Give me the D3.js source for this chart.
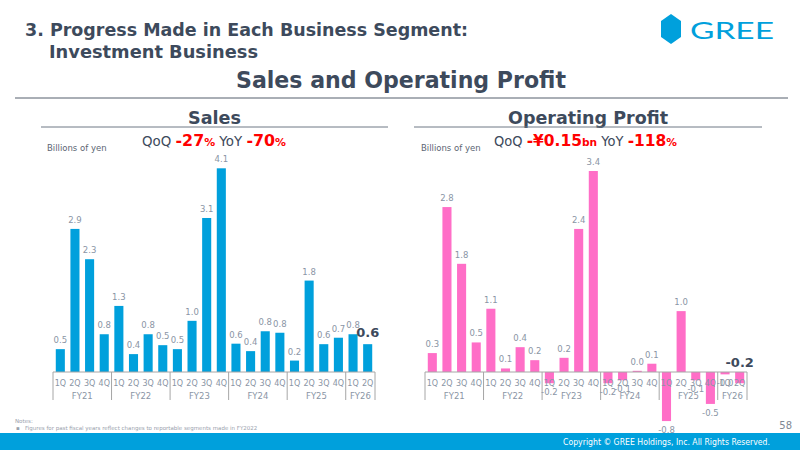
<!DOCTYPE html>
<html>
<head>
<meta charset="utf-8">
<script src="https://cdn.jsdelivr.net/npm/d3@7"></script>
<style>
body { margin: 0; background: #fff; }
svg { display: block; }
</style>
</head>
<body>
<div id="chart"></div>
<script>
// data
var fiscalYears = ["FY21", "FY22", "FY23", "FY24", "FY25", "FY26"];
var quarterNames = ["1Q", "2Q", "3Q", "4Q"];
var quartersPerYear = [4, 4, 4, 4, 4, 2];

var salesValues = [0.46, 2.88, 2.27, 0.76, 1.33, 0.36, 0.76, 0.54, 0.46, 1.03, 3.10, 4.10,
                   0.57, 0.42, 0.82, 0.79, 0.23, 1.84, 0.56, 0.69, 0.76, 0.56];
var profitValues = [0.32, 2.79, 1.83, 0.50, 1.07, 0.06, 0.42, 0.20, -0.19, 0.24, 2.42, 3.40,
                    -0.19, -0.14, 0.02, 0.14, -0.83, 1.03, -0.14, -0.54, -0.04, -0.19];

var salesQoQ = "-27", salesYoY = "-70";
var profitQoQ = "-¥0.15", profitYoY = "-118";

var categories = [];
fiscalYears.forEach(function (fy, i) {
    for (var q = 0; q < quartersPerYear[i]; q++) categories.push(fy + "-" + quarterNames[q]);
});

var W = 800, H = 450;
var dark = "#3d4a5c", grey = "#8a95a5", axisGrey = "#a6a6a6";
var font = "'DejaVu Sans', Verdana, sans-serif";

var svg = d3.select("#chart").append("svg")
    .attr("width", W).attr("height", H)
    .style("font-family", font);

// ---- header ----
svg.append("text").attr("x", 25).attr("y", 36)
    .attr("textLength", 443).attr("lengthAdjust", "spacingAndGlyphs")
    .attr("font-size", 18).attr("font-weight", "bold").attr("fill", dark)
    .text("3. Progress Made in Each Business Segment:");
svg.append("text").attr("x", 49).attr("y", 58)
    .attr("textLength", 209).attr("lengthAdjust", "spacingAndGlyphs")
    .attr("font-size", 18).attr("font-weight", "bold").attr("fill", dark)
    .text("Investment Business");
svg.append("text").attr("x", 236).attr("y", 88)
    .attr("textLength", 330).attr("lengthAdjust", "spacingAndGlyphs")
    .attr("font-size", 23).attr("font-weight", "bold").attr("fill", dark)
    .text("Sales and Operating Profit");
svg.append("line").attr("x1", 15).attr("x2", 788).attr("y1", 98).attr("y2", 98)
    .attr("stroke", "#555f6d").attr("stroke-width", 1);

// logo
var hx = 671, hy = 29;
svg.append("polygon")
    .attr("points", [[hx, hy - 15], [hx + 10, hy - 8], [hx + 10, hy + 8], [hx, hy + 15], [hx - 10, hy + 8], [hx - 10, hy - 8]].join(" "))
    .attr("fill", "#00a0dc");
svg.append("text").attr("x", 690).attr("y", 39)
    .attr("textLength", 84).attr("lengthAdjust", "spacingAndGlyphs")
    .attr("font-family", "Lato, 'Open Sans', sans-serif")
    .attr("font-size", 24).attr("fill", "#00a0dc").text("GREE");

// ---- footer ----
svg.append("rect").attr("x", 0).attr("y", 433).attr("width", W).attr("height", H - 433).attr("fill", "#00a0dc");
svg.append("text").attr("x", 563).attr("y", 445)
    .attr("textLength", 207).attr("lengthAdjust", "spacingAndGlyphs")
    .attr("font-size", 8.5).attr("fill", "#fff")
    .text("Copyright © GREE Holdings, Inc. All Rights Reserved.");
svg.append("text").attr("x", 792).attr("y", 429).attr("text-anchor", "end")
    .attr("font-size", 10).attr("fill", "#7f8894").text("58");
svg.append("text").attr("x", 15).attr("y", 423).attr("font-size", 5.5).attr("fill", "#9aa2ad").text("Notes:");
svg.append("text").attr("x", 16).attr("y", 430).attr("font-size", 5.5).attr("fill", "#9aa2ad").text("▪");
svg.append("text").attr("x", 25).attr("y", 430).attr("font-size", 5.5).attr("fill", "#9aa2ad")
    .text("Figures for past fiscal years reflect changes to reportable segments made in FY2022");

// ---- one chart panel ----
function drawPanel(cfg) {
    var g = svg.append("g");

    g.append("text").attr("x", cfg.titleX).attr("y", 124)
        .attr("textLength", cfg.titleW).attr("lengthAdjust", "spacingAndGlyphs")
        .attr("font-size", 17).attr("font-weight", "bold").attr("fill", dark)
        .text(cfg.title);
    g.append("line").attr("x1", cfg.lineX[0]).attr("x2", cfg.lineX[1]).attr("y1", 127).attr("y2", 127)
        .attr("stroke", "#6f7885").attr("stroke-width", 1);

    g.append("text").attr("x", cfg.unitX).attr("y", 151)
        .attr("font-size", 8.5).attr("fill", "#5b6573").text("Billions of yen");

    var kpi = g.append("text").attr("x", cfg.kpiX).attr("y", 146).attr("fill", dark)
        .attr("textLength", cfg.kpiW).attr("lengthAdjust", "spacingAndGlyphs");
    kpi.append("tspan").attr("font-size", 13.5).text("QoQ ");
    kpi.append("tspan").attr("font-size", 16).attr("font-weight", "bold").attr("fill", "#ff0000").text(cfg.qoq);
    kpi.append("tspan").attr("font-size", 11).attr("font-weight", "bold").attr("fill", "#ff0000").text(cfg.qoqUnit);
    kpi.append("tspan").attr("font-size", 13.5).text(" YoY ");
    kpi.append("tspan").attr("font-size", 16).attr("font-weight", "bold").attr("fill", "#ff0000").text(cfg.yoy);
    kpi.append("tspan").attr("font-size", 11).attr("font-weight", "bold").attr("fill", "#ff0000").text("%");

    var x = d3.scaleBand().domain(categories).range(cfg.xRange)
        .paddingInner(0.38).paddingOuter(0.19);
    var y = d3.scaleLinear().domain([0, cfg.top]).range([cfg.base, cfg.topY]);
    var data = categories.map(function (c, i) { return { key: c, v: cfg.values[i] }; });

    g.selectAll("rect.bar").data(data).enter().append("rect")
        .attr("class", "bar")
        .attr("x", function (d) { return x(d.key); })
        .attr("width", x.bandwidth())
        .attr("y", function (d) { return y(Math.max(0, d.v)); })
        .attr("height", function (d) { return Math.max(1, Math.abs(y(d.v) - y(0))); })
        .attr("fill", cfg.color);

    // axis frame
    g.append("line").attr("x1", cfg.xRange[0]).attr("x2", cfg.xRange[1])
        .attr("y1", cfg.base).attr("y2", cfg.base).attr("stroke", axisGrey);
    var idx = 0, bounds = [0];
    quartersPerYear.forEach(function (n) { idx += n; bounds.push(idx); });
    g.selectAll("line.div").data(bounds).enter().append("line")
        .attr("class", "div")
        .attr("x1", function (b) { return cfg.xRange[0] + b * x.step(); })
        .attr("x2", function (b) { return cfg.xRange[0] + b * x.step(); })
        .attr("y1", cfg.base).attr("y2", cfg.base + 28)
        .attr("stroke", axisGrey);

    var axis = g.append("g").attr("transform", "translate(0," + cfg.base + ")")
        .call(d3.axisBottom(x).tickSize(0).tickPadding(8)
            .tickFormat(function (d) { return d.split("-")[1]; }));
    axis.select(".domain").remove();
    axis.selectAll("text").attr("font-size", 8).attr("fill", grey).attr("font-family", font);

    g.selectAll("text.fy").data(fiscalYears).enter().append("text")
        .attr("class", "fy")
        .attr("x", function (fy, i) { return cfg.xRange[0] + (bounds[i] + bounds[i + 1]) / 2 * x.step(); })
        .attr("y", 399).attr("text-anchor", "middle")
        .attr("font-size", 8.5).attr("fill", grey).text(function (d) { return d; });

    // value labels (last one is highlighted)
    var last = data.length - 1;
    g.selectAll("text.val").data(data.slice(0, last)).enter().append("text")
        .attr("class", "val")
        .attr("x", function (d) { return x(d.key) + x.bandwidth() / 2; })
        .attr("y", function (d) { return d.v >= 0 ? y(d.v) - 6 : y(d.v) + 12; })
        .attr("text-anchor", "middle").attr("font-size", 8.5).attr("fill", grey)
        .text(function (d) { return d.v.toFixed(1); });
    g.append("text")
        .attr("x", x(data[last].key) + x.bandwidth() / 2)
        .attr("y", cfg.lastLabelY(y, data[last].v))
        .attr("text-anchor", "middle").attr("font-size", 13).attr("font-weight", "bold")
        .attr("fill", dark).text(data[last].v.toFixed(1));
}

drawPanel({
    title: "Sales", titleX: 188, titleW: 53, lineX: [41, 388],
    unitX: 47, kpiX: 142, kpiW: 144, qoq: salesQoQ, qoqUnit: "%", yoy: salesYoY,
    xRange: [53, 375], base: 372, top: 4.1, topY: 168.3,
    values: salesValues, color: "#00a0dc",
    lastLabelY: function (y, v) { return y(v) - 7; }
});

drawPanel({
    title: "Operating Profit", titleX: 508, titleW: 160, lineX: [414, 762],
    unitX: 421, kpiX: 494, kpiW: 183, qoq: profitQoQ, qoqUnit: "bn", yoy: profitYoY,
    xRange: [425, 747], base: 372, top: 3.4, topY: 171,
    values: profitValues, color: "#ff6ec7",
    lastLabelY: function (y, v) { return y(0) - 5; }
});
</script>
</body>
</html>
